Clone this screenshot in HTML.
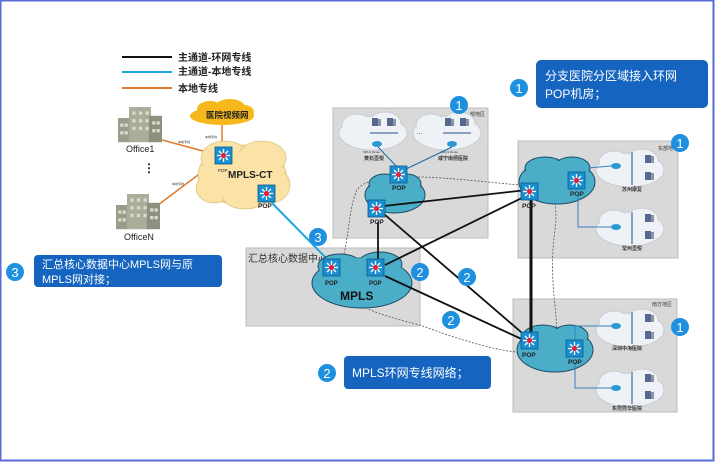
<!DOCTYPE html>
<html><head><meta charset="utf-8"><style>
html,body{margin:0;padding:0;background:#fff}
svg{display:block}
text{font-family:"Liberation Sans","Noto Sans CJK SC",sans-serif}
</style></head><body>
<svg width="715" height="462" viewBox="0 0 715 462" xmlns="http://www.w3.org/2000/svg">
<defs>
<g id="sw">
<rect x="0" y="0" width="17" height="17" fill="#1a8fd0" stroke="#0a5a90" stroke-width="0.8"/>
<g stroke="#fff" stroke-width="1.3"><line x1="8.5" y1="2" x2="8.5" y2="15"/><line x1="2" y1="8.5" x2="15" y2="8.5"/><line x1="4" y1="4" x2="13" y2="13"/><line x1="13" y1="4" x2="4" y2="13"/></g>
<circle cx="8.5" cy="8.5" r="2.6" fill="#e8203a"/>
</g>
<g id="hosp">
<ellipse cx="0" cy="2" rx="34" ry="17" fill="#eef2f6" stroke="#c8ccd2"/>
<ellipse cx="-16" cy="-6" rx="15" ry="11" fill="#eef2f6" stroke="#c8ccd2"/>
<ellipse cx="12" cy="-8" rx="16" ry="11" fill="#eef2f6" stroke="#c8ccd2"/>
<ellipse cx="0" cy="1" rx="32" ry="15" fill="#eef2f6"/>
<ellipse cx="-14" cy="-5" rx="13" ry="9" fill="#eef2f6"/>
<ellipse cx="12" cy="-7" rx="14" ry="9" fill="#eef2f6"/>
</g>
<g id="srv"><rect x="0" y="0" width="6" height="8" fill="#56688c"/><rect x="6" y="1" width="3" height="7" fill="#8b93a8"/></g>
<g id="bld">
<rect x="0" y="10" width="12" height="22" fill="#9a9d8c"/>
<rect x="10" y="0" width="20" height="32" fill="#a9ad99"/>
<rect x="28" y="8" width="12" height="24" fill="#8c907e"/>
<g fill="#d7d9cc"><rect x="13" y="4" width="3" height="3"/><rect x="19" y="4" width="3" height="3"/><rect x="25" y="4" width="3" height="3"/><rect x="13" y="11" width="3" height="3"/><rect x="19" y="11" width="3" height="3"/><rect x="25" y="11" width="3" height="3"/><rect x="13" y="18" width="3" height="3"/><rect x="19" y="18" width="3" height="3"/><rect x="25" y="18" width="3" height="3"/><rect x="2" y="15" width="3" height="3"/><rect x="6" y="15" width="3" height="3"/><rect x="2" y="22" width="3" height="3"/><rect x="6" y="22" width="3" height="3"/><rect x="31" y="13" width="3" height="3"/><rect x="35" y="13" width="3" height="3"/><rect x="31" y="20" width="3" height="3"/><rect x="35" y="20" width="3" height="3"/></g>
</g>
</defs>
<rect x="0.5" y="0.5" width="713" height="460" fill="#fff" stroke="#5a6ad8" stroke-width="2"/>

<line x1="122" y1="57" x2="172" y2="57" stroke="#111" stroke-width="2"/>
<line x1="122" y1="72" x2="172" y2="72" stroke="#1ba8e0" stroke-width="2"/>
<line x1="122" y1="88" x2="172" y2="88" stroke="#e07a2a" stroke-width="2"/>
<text x="178" y="61" font-size="10" font-weight="bold" fill="#222">主通道-环网专线</text>
<text x="178" y="75" font-size="10" font-weight="bold" fill="#222">主通道-本地专线</text>
<text x="178" y="92" font-size="10" font-weight="bold" fill="#222">本地专线</text>

<rect x="333" y="108" width="155" height="130" fill="#d9d9d9" stroke="#bcbcbc"/>
<rect x="518" y="141" width="160" height="117" fill="#d9d9d9" stroke="#bcbcbc"/>
<rect x="513" y="299" width="164" height="113" fill="#d9d9d9" stroke="#bcbcbc"/>
<rect x="246" y="248" width="174" height="78" fill="#d9d9d9" stroke="#bcbcbc"/>
<text x="248" y="262" font-size="10" fill="#333">汇总核心数据中心</text>
<text x="470" y="116" font-size="5" fill="#333">部地区</text>
<text x="658" y="150" font-size="5" fill="#333">东部地</text>
<text x="652" y="306" font-size="5" fill="#333">南方地区</text>

<line x1="222" y1="120" x2="222" y2="150" stroke="#e07a2a" stroke-width="1.5"/>
<line x1="162" y1="140" x2="218" y2="155" stroke="#e07a2a" stroke-width="1.5"/>
<line x1="158" y1="205" x2="218" y2="160" stroke="#e07a2a" stroke-width="1.5"/>
<text x="178" y="143" font-size="3" fill="#333">本地专线</text>
<text x="205" y="138" font-size="3" fill="#333">本地专线</text>
<text x="172" y="185" font-size="3" fill="#333">本地专线</text>

<g fill="#f6b81a"><ellipse cx="222" cy="116" rx="32" ry="9"/><ellipse cx="210" cy="109" rx="13" ry="8"/><ellipse cx="230" cy="107" rx="15" ry="8"/><ellipse cx="244" cy="112" rx="10" ry="7"/></g>
<text x="206" y="118" font-size="8.5" font-weight="bold" fill="#222">医院视频网</text>

<g fill="#fbe3a8" stroke="#d8c07a" stroke-width="0.7">
<ellipse cx="242" cy="175" rx="44" ry="30"/><ellipse cx="225" cy="158" rx="24" ry="17"/><ellipse cx="262" cy="158" rx="24" ry="17"/><ellipse cx="270" cy="185" rx="20" ry="18"/><ellipse cx="214" cy="188" rx="18" ry="15"/><ellipse cx="245" cy="197" rx="22" ry="12"/>
</g>
<ellipse cx="242" cy="176" rx="42" ry="24" fill="#fbe3a8"/>
<text x="228" y="178" font-size="10" font-weight="bold" fill="#222">MPLS-CT</text>
<use href="#sw" x="215" y="147"/>
<text x="218" y="172" font-size="4.5" fill="#222">POP</text>
<use href="#sw" x="258" y="185"/>
<text x="258" y="208" font-size="6.5" font-weight="bold" fill="#222">POP</text>

<g transform="translate(118,107) scale(1.1)"><use href="#bld"/></g>
<text x="126" y="152" font-size="9" fill="#222">Office1</text>
<text x="143" y="172" font-size="12" font-weight="bold" fill="#222">⋮</text>
<g transform="translate(116,194) scale(1.1)"><use href="#bld"/></g>
<text x="124" y="240" font-size="9" fill="#222">OfficeN</text>

<line x1="272" y1="203" x2="332" y2="264" stroke="#1ba8e0" stroke-width="2"/>

<path d="M355 195 C360 165 460 180 520 185 C545 180 560 190 555 230 C545 300 570 340 545 350 C520 360 460 340 420 325 C360 310 330 300 345 250 C350 220 350 210 355 195" fill="none" stroke="#555" stroke-width="0.8" stroke-dasharray="2,1.5"/>

<g fill="#4aaec8" stroke="#1d4a66" stroke-width="1">
<ellipse cx="395" cy="195" rx="30" ry="18"/><ellipse cx="385" cy="184" rx="16" ry="10"/><ellipse cx="407" cy="184" rx="14" ry="10"/>
<ellipse cx="557" cy="182" rx="38" ry="22"/><ellipse cx="545" cy="168" rx="20" ry="11"/><ellipse cx="572" cy="168" rx="18" ry="11"/>
<ellipse cx="555" cy="350" rx="38" ry="22"/><ellipse cx="543" cy="336" rx="20" ry="11"/><ellipse cx="570" cy="336" rx="18" ry="11"/>
<ellipse cx="362" cy="283" rx="50" ry="25"/><ellipse cx="340" cy="266" rx="22" ry="12"/><ellipse cx="380" cy="264" rx="22" ry="12"/>
</g>
<g fill="#4aaec8"><ellipse cx="395" cy="194" rx="28" ry="16"/><ellipse cx="557" cy="181" rx="36" ry="20"/><ellipse cx="555" cy="349" rx="36" ry="20"/><ellipse cx="362" cy="281" rx="48" ry="23"/></g>
<text x="340" y="300" font-size="12" font-weight="bold" fill="#111">MPLS</text>

<use href="#hosp" x="373" y="131"/><use href="#hosp" x="447" y="131"/>
<text x="416" y="134" font-size="7" fill="#333">…</text>
<g><use href="#srv" x="372" y="118"/><use href="#srv" x="387" y="118"/><use href="#srv" x="445" y="118"/><use href="#srv" x="460" y="118"/></g>
<line x1="370" y1="133" x2="398" y2="133" stroke="#8aa0c0" stroke-width="2"/>
<line x1="443" y1="133" x2="471" y2="133" stroke="#8aa0c0" stroke-width="2"/>
<ellipse cx="377" cy="144" rx="5" ry="3" fill="#2a9ad0"/><ellipse cx="452" cy="144" rx="5" ry="3" fill="#2a9ad0"/>
<text x="363" y="153" font-size="3" fill="#333">MPLS Route</text><text x="441" y="153" font-size="3" fill="#333">MPLS Route</text>
<text x="364" y="160" font-size="5" font-weight="bold" fill="#333">黄石壶悦</text>
<text x="438" y="160" font-size="5" font-weight="bold" fill="#333">咸宁南德医院</text>
<line x1="378" y1="147" x2="398" y2="168" stroke="#1a6aa8" stroke-width="1"/>
<line x1="452" y1="147" x2="404" y2="170" stroke="#1a6aa8" stroke-width="1"/>

<use href="#hosp" x="630" y="168"/><use href="#hosp" x="630" y="227"/>
<line x1="632" y1="152" x2="632" y2="185" stroke="#8aa0c0" stroke-width="2"/>
<line x1="632" y1="212" x2="632" y2="244" stroke="#8aa0c0" stroke-width="2"/>
<use href="#srv" x="645" y="155"/><use href="#srv" x="645" y="172"/><use href="#srv" x="645" y="214"/><use href="#srv" x="645" y="231"/>
<ellipse cx="616" cy="166" rx="5" ry="3" fill="#2a9ad0"/><ellipse cx="616" cy="227" rx="5" ry="3" fill="#2a9ad0"/>
<polyline points="588,168 611,166" fill="none" stroke="#3a80c0"/>
<polyline points="578,195 578,227 611,227" fill="none" stroke="#3a80c0"/>
<text x="622" y="191" font-size="5" font-weight="bold" fill="#333">苏州康复</text>
<text x="622" y="250" font-size="5" font-weight="bold" fill="#333">常州壶悦</text>

<use href="#hosp" x="630" y="328"/><use href="#hosp" x="630" y="388"/>
<line x1="632" y1="312" x2="632" y2="344" stroke="#8aa0c0" stroke-width="2"/>
<line x1="632" y1="372" x2="632" y2="404" stroke="#8aa0c0" stroke-width="2"/>
<use href="#srv" x="645" y="314"/><use href="#srv" x="645" y="331"/><use href="#srv" x="645" y="374"/><use href="#srv" x="645" y="391"/>
<ellipse cx="616" cy="326" rx="5" ry="3" fill="#2a9ad0"/><ellipse cx="616" cy="388" rx="5" ry="3" fill="#2a9ad0"/>
<polyline points="575,350 575,326 611,326" fill="none" stroke="#3a80c0"/>
<polyline points="575,362 575,388 611,388" fill="none" stroke="#3a80c0"/>
<text x="612" y="350" font-size="5" font-weight="bold" fill="#333">深圳中海医院</text>
<text x="612" y="410" font-size="5" font-weight="bold" fill="#333">东莞莞华医院</text>

<g stroke="#111" stroke-width="1.8">
<line x1="384" y1="206" x2="527" y2="190"/>
<line x1="384" y1="214" x2="528" y2="338"/>
<line x1="378" y1="222" x2="378" y2="262"/>
<line x1="385" y1="265" x2="528" y2="195"/>
<line x1="385" y1="276" x2="528" y2="342"/>
</g>
<line x1="531" y1="200" x2="531" y2="333" stroke="#111" stroke-width="3"/>

<use href="#sw" x="390" y="166"/><text x="392" y="190" font-size="6.5" font-weight="bold" fill="#222">POP</text>
<use href="#sw" x="368" y="200"/><text x="370" y="224" font-size="6.5" font-weight="bold" fill="#222">POP</text>
<use href="#sw" x="521" y="183"/><text x="522" y="208" font-size="6.5" font-weight="bold" fill="#222">POP</text>
<use href="#sw" x="568" y="172"/><text x="570" y="196" font-size="6.5" font-weight="bold" fill="#222">POP</text>
<use href="#sw" x="521" y="332"/><text x="522" y="357" font-size="6.5" font-weight="bold" fill="#222">POP</text>
<use href="#sw" x="566" y="340"/><text x="568" y="364" font-size="6.5" font-weight="bold" fill="#222">POP</text>
<use href="#sw" x="323" y="259"/><text x="325" y="285" font-size="6" font-weight="bold" fill="#222">POP</text>
<use href="#sw" x="367" y="259"/><text x="369" y="285" font-size="6" font-weight="bold" fill="#222">POP</text>

<g font-size="13" fill="#fff" text-anchor="middle">
<circle cx="459" cy="105" r="9" fill="#1e90e0"/><text x="459" y="110">1</text>
<circle cx="680" cy="143" r="9" fill="#1e90e0"/><text x="680" y="148">1</text>
<circle cx="680" cy="327" r="9" fill="#1e90e0"/><text x="680" y="332">1</text>
<circle cx="519" cy="88" r="9" fill="#1e90e0"/><text x="519" y="93">1</text>
<circle cx="318" cy="237" r="9" fill="#1e90e0"/><text x="318" y="242">3</text>
<circle cx="15" cy="272" r="9" fill="#1e90e0"/><text x="15" y="277">3</text>
<circle cx="420" cy="272" r="9" fill="#1e90e0"/><text x="420" y="277">2</text>
<circle cx="467" cy="277" r="9" fill="#1e90e0"/><text x="467" y="282">2</text>
<circle cx="451" cy="320" r="9" fill="#1e90e0"/><text x="451" y="325">2</text>
<circle cx="327" cy="373" r="9" fill="#1e90e0"/><text x="327" y="378">2</text>
</g>

<rect x="536" y="60" width="172" height="48" rx="5" fill="#1565c0"/>
<text x="545" y="80" font-size="12" fill="#fff">分支医院分区域接入环网</text>
<text x="545" y="98" font-size="12" fill="#fff">POP机房；</text>
<rect x="34" y="255" width="188" height="32" rx="4" fill="#1565c0"/>
<text x="42" y="268" font-size="11" fill="#fff">汇总核心数据中心MPLS网与原</text>
<text x="42" y="283" font-size="11" fill="#fff">MPLS网对接；</text>
<rect x="344" y="356" width="147" height="33" rx="4" fill="#1565c0"/>
<text x="352" y="377" font-size="12" fill="#fff">MPLS环网专线网络；</text>
</svg>
</body></html>
